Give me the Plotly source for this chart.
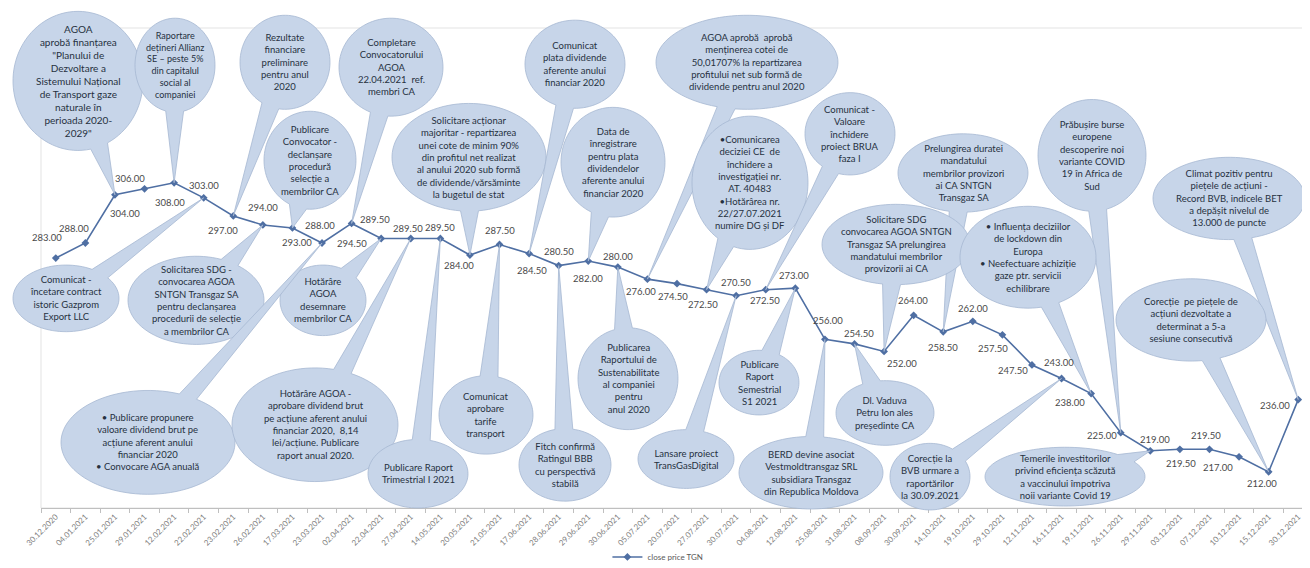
import math
import plotly.graph_objects as go

# ---------------- data ----------------
dates = ["30.12.2020", "04.01.2021", "25.01.2021", "29.01.2021", "12.02.2021", "22.02.2021",
         "23.02.2021", "26.02.2021", "17.03.2021", "23.03.2021", "02.04.2021", "22.04.2021",
         "27.04.2021", "14.05.2021", "20.05.2021", "21.05.2021", "17.06.2021", "28.06.2021",
         "29.06.2021", "30.06.2021", "05.07.2021", "20.07.2021", "27.07.2021", "30.07.2021",
         "04.08.2021", "12.08.2021", "25.08.2021", "31.08.2021", "08.09.2021", "30.09.2021",
         "14.10.2021", "19.10.2021", "29.10.2021", "12.11.2021", "16.11.2021", "19.11.2021",
         "26.11.2021", "29.11.2021", "03.12.2021", "07.12.2021", "10.12.2021", "15.12.2021",
         "30.12.2021"]

close_price = [283.00, 288.00, 304.00, 306.00, 308.00, 303.00, 297.00, 294.00, 293.00, 288.00,
               294.50, 289.50, 289.50, 289.50, 284.00, 287.50, 284.50, 280.50, 282.00, 280.00,
               276.00, 274.50, 272.50, 270.50, 272.50, 273.00, 256.00, 254.50, 252.00, 264.00,
               258.50, 262.00, 257.50, 247.50, 243.00, 238.00, 225.00, 219.00, 219.50, 219.50,
               217.00, 212.00, 236.00]

series_name = "close price TGN"

# callout texts and the index of the point they refer to
callout_texts = [
    ["AGOA", "aprobă finanțarea", "\"Planului de", "Dezvoltare a", "Sistemului Național",
     "de Transport gaze", "naturale în", "perioada 2020-", "2029\""],
    ["Raportare", "dețineri Allianz", "SE – peste 5%", "din capitalul", "social al", "companiei"],
    ["Rezultate", "financiare", "preliminare", "pentru anul", "2020"],
    ["Publicare", "Convocator -", "declanșare", "procedură", "selecție a", "membrilor CA"],
    ["Completare", "Convocatorului", "AGOA", "22.04.2021  ref.", "membri CA"],
    ["Solicitare acționar", "majoritar - repartizarea", "unei cote de minim 90%",
     "din profitul net realizat", "al anului 2020 sub formă", "de dividende/vărsăminte",
     "la bugetul de stat"],
    ["Comunicat", "plata dividende", "aferente anului", "financiar 2020"],
    ["Data de", "înregistrare", "pentru plata", "dividendelor", "aferente anului", "financiar 2020"],
    ["AGOA aprobă  aprobă", "menținerea cotei de", "50,01707% la repartizarea",
     "profitului net sub formă de", "dividende pentru anul 2020"],
    ["•Comunicarea", "deciziei CE  de", "închidere a", "investigației nr.", "AT. 40483",
     "•Hotărârea nr.", "22/27.07.2021", "numire DG și DF"],
    ["Comunicat -", "Valoare", "închidere", "proiect BRUA", "faza I"],
    ["Prelungirea duratei", "mandatului", "membrilor provizori", "ai CA SNTGN", "Transgaz SA"],
    ["Solicitare SDG", "convocarea AGOA SNTGN", "Transgaz SA prelungirea",
     "mandatului membrilor", "provizorii ai CA"],
    ["Prăbușire burse", "europene", "descoperire noi", "variante COVID", "19 în Africa de", "Sud"],
    ["Climat pozitiv pentru", "piețele de acțiuni -", "Record BVB, indicele BET",
     "a depășit nivelul de", "13.000 de puncte"],
    ["• Influența deciziilor", "de lockdown din", "Europa", "• Neefectuare achiziție",
     "gaze ptr. servicii", "echilibrare"],
    ["Corecție  pe piețele de", "acțiuni dezvoltate a", "determinat a 5-a", "sesiune consecutivă"],
    ["Comunicat -", "încetare contract", "istoric Gazprom", "Export LLC"],
    ["Solicitarea SDG -", "convocarea AGOA", "SNTGN Transgaz SA", "pentru declanșarea",
     "procedurii de selecție", "a membrilor CA"],
    ["Hotărâre", "AGOA", "desemnare", "membrilor CA"],
    ["• Publicare propunere", "valoare dividend brut pe", "acțiune aferent anului",
     "financiar 2020", "• Convocare AGA anuală"],
    ["Hotărâre AGOA -", "aprobare dividend brut", "pe acțiune aferent anului",
     "financiar 2020,  8,14", "lei/acțiune. Publicare", "raport anual 2020."],
    ["Publicare Raport", "Trimestrial I 2021"],
    ["Comunicat", "aprobare", "tarife", "transport"],
    ["Fitch confirmă", "Ratingul BBB", "cu perspectivă", "stabilă"],
    ["Publicarea", "Raportului de", "Sustenabilitate", "al companiei", "pentru", "anul 2020"],
    ["Lansare proiect", "TransGasDigital"],
    ["Publicare", "Raport", "Semestrial", "S1 2021"],
    ["BERD devine asociat", "Vestmoldtransgaz SRL", "subsidiara Transgaz", "din Republica Moldova"],
    ["Dl. Vaduva", "Petru Ion ales", "președinte CA"],
    ["Corecție la", "BVB urmare a", "raportărilor", "la 30.09.2021"],
    ["Temerile investitorilor", "privind eficiența scăzută", "a vaccinului împotriva",
     "noii variante Covid 19"],
]
callout_targets = [2, 4, 6, 8, 10, 14, 16, 18, 20, 22, 24, 30, 28, 36, 42, 35, 41,
                   5, 7, 11, 9, 12, 13, 15, 17, 19, 23, 25, 26, 27, 34, 37]

# ---------------- layout / style ----------------
W, H = 1310, 568
PL, PR, PT, PB = 33, 1305, 20, 510        # plot area in pixels
YMIN, YMAX = 200, 359.4

# bubble geometry in pixels: (cx, cy, rx, ry, font size)
bubble_geom = [
    (70, 74, 65, 71, 10), (167, 58, 40, 48, 9), (277, 55, 45, 48, 9.5), (302, 155, 46, 50, 9.5),
    (383, 60, 52, 50, 9.5), (461, 152, 77, 55, 9.5), (567, 57, 50, 45, 9.5), (605, 157, 52, 56, 9.5),
    (739, 55, 91, 48, 9.5), (742, 178, 58, 68, 9.5), (842, 128, 45, 42, 9.5), (955, 168, 65, 40, 9.5),
    (888, 241, 74, 41, 9.5), (1084, 150, 54, 57, 9.5), (1221, 194, 76, 42, 9.5), (1020, 254, 68, 52, 9.5),
    (1183, 318, 75, 42, 9.5),
    (58, 296, 53, 34, 9.5), (188, 298, 68, 45, 9.5), (315, 298, 43, 36, 9.5), (140, 443, 87, 53, 9.5),
    (307, 425, 83, 58, 9.5), (410, 475, 50, 35, 9.5), (478, 415, 47, 40, 9.5), (557, 466, 46, 37, 9.5),
    (620, 378, 50, 52, 9.5), (678, 460, 48, 30, 9.5), (751, 382, 40, 33, 9.5), (803, 474, 72, 37, 9.5),
    (877, 413, 49, 33, 9.5), (922, 478, 40, 34, 9.5), (1057, 478, 80, 30, 9.5),
]

# data-label offsets (dx, dy) in pixels from each point (dy positive = downward)
label_offsets = [(-9, -21), (-11, -15), (10, 19), (-15, -10), (-4, 20), (0, -12), (-10, 15),
                 (0, -17), (5, 15), (-2, -18), (0, 20), (-6, -19), (-3, -10), (0, -11),
                 (-11, 10), (0, -14), (3, 17), (0, -14), (0, 17), (0, -11), (-6, 12), (-4, 13),
                 (-4, 15), (0, -13), (-1, 11), (-1, -13), (3, -19), (5, -10), (18, 12), (-1, -15),
                 (0, 16), (0, -13), (-9, 14), (-19, 6), (-3, -16), (-21, 9), (-19, 3), (5, -11),
                 (1, 14), (-3, -14), (-21, 11), (-7, 12), (-23, 6)]

LINE_COLOR = "#4f6fa3"
BUBBLE_FILL = "#c7d5e9"
BUBBLE_LINE = "#a6b8d2"
BUBBLE_TEXT = "#26313f"
FONT = "Lato, Carlito, 'Open Sans', sans-serif"

n = len(dates)
xs = list(range(n))


def px_to_paper(px, py):
    return (px - PL) / (PR - PL), (PB - py) / (PB - PT)


def point_px(i):
    # pixel position of data point i given the axis ranges used below
    x = PL + (i + 0.5) / n * (PR - PL)
    y = PB - (close_price[i] - YMIN) / (YMAX - YMIN) * (PB - PT)
    return x, y


def bubble_path(cx, cy, rx, ry, tip, base=18):
    tx, ty = tip
    t0 = math.atan2((ty - cy) / ry, (tx - cx) / rx)
    speed = math.hypot(rx * math.sin(t0), ry * math.cos(t0))
    dt = (base / 2) / speed
    start, end = t0 + dt, t0 - dt + 2 * math.pi
    N = 90
    pts = [(cx + rx * math.cos(start + (end - start) * k / N),
            cy + ry * math.sin(start + (end - start) * k / N)) for k in range(N + 1)]
    pts.append((tx, ty))
    coords = [px_to_paper(x, y) for x, y in pts]
    return "M " + " L ".join(f"{a:.5f},{b:.5f}" for a, b in coords) + " Z"


fig = go.Figure()
fig.add_trace(go.Scatter(
    x=xs, y=close_price, name=series_name,
    mode="lines+markers",
    line=dict(color=LINE_COLOR, width=1.6),
    marker=dict(symbol="diamond", size=6, color=LINE_COLOR),
    cliponaxis=False,
))

shapes = [dict(type="rect", xref="paper", yref="paper", x0=0, y0=0, x1=1, y1=1,
               line=dict(color="#e3e3e3", width=1), layer="below")]
annotations = []

# data labels (values read from the series)
for i, v in enumerate(close_price):
    dx, dy = label_offsets[i]
    annotations.append(dict(xref="x", yref="y", x=i, y=v, text=f"{v:.2f}", showarrow=False,
                            xshift=dx, yshift=-dy, xanchor="center", yanchor="middle",
                            font=dict(family=FONT, size=9.5, color="#4a4a4a")))

for lines, tgt, (cx, cy, rx, ry, fs) in zip(callout_texts, callout_targets, bubble_geom):
    shapes.append(dict(type="path", xref="paper", yref="paper",
                       path=bubble_path(cx, cy, rx, ry, point_px(tgt)),
                       fillcolor=BUBBLE_FILL, line=dict(color=BUBBLE_LINE, width=0.8),
                       layer="above"))
    ax, ay = px_to_paper(cx, cy)
    annotations.append(dict(xref="paper", yref="paper", x=ax, y=ay, showarrow=False,
                            text="<br>".join(lines), align="center",
                            xanchor="center", yanchor="middle",
                            font=dict(family=FONT, size=fs, color=BUBBLE_TEXT)))

fig.update_layout(
    width=W, height=H,
    margin=dict(l=PL, r=W - PR, t=PT, b=H - PB),
    paper_bgcolor="white", plot_bgcolor="white",
    showlegend=True,
    legend=dict(orientation="h", x=0.485, xanchor="center", y=-0.102, yanchor="middle",
                font=dict(family=FONT, size=8, color="#595959"), bgcolor="rgba(0,0,0,0)"),
    shapes=shapes, annotations=annotations,
    xaxis=dict(range=[-0.5, n - 0.5], tickmode="array", tickvals=xs, ticktext=dates,
               tickangle=-45, tickfont=dict(family=FONT, size=8, color="#7f7f7f"),
               showline=True, linecolor="#bfbfbf", linewidth=1, ticks="",
               minor=dict(tickmode="array", tickvals=[i - 0.5 for i in range(n + 1)],
                          ticks="outside", ticklen=4, tickcolor="#bfbfbf"),
               showgrid=False, zeroline=False, automargin=False),
    yaxis=dict(range=[YMIN, YMAX], visible=False, showgrid=False, zeroline=False),
)

fig.write_html("out.html")
